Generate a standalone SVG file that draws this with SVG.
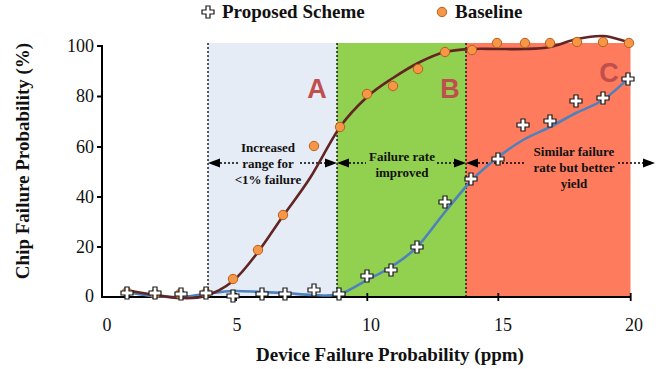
<svg xmlns="http://www.w3.org/2000/svg" width="670" height="369" viewBox="0 0 670 369">
<style>
.ser{font-family:"Liberation Serif","Times New Roman",serif;fill:#111}
.tick{font-size:18px}
.title{font-size:19px;font-weight:bold}
.note{font-size:13px;font-weight:bold;text-anchor:middle}
.reg{font-family:"Liberation Sans",Arial,sans-serif;font-size:27px;font-weight:bold;fill:#BF4F4C;text-anchor:middle}
.dash{stroke:#000;stroke-width:1.3;stroke-dasharray:2 2;fill:none}
.arr{stroke:#000;stroke-width:1.5;stroke-dasharray:2 2;fill:none}
.head{fill:#000}
.circ{fill:#F79646;stroke:#B5601C;stroke-width:1}
</style>
<defs>
<path id="plus" d="M-2,-6 h4 v4 h4 v4 h-4 v4 h-4 v-4 h-4 v-4 h4 z" fill="#fff" stroke="#1a1a1a" stroke-width="1.2"/>
<circle id="dot" r="4.7" class="circ"/>
</defs>
<rect width="670" height="369" fill="#fff"/>
<g id="regions">
<rect x="208" y="43" width="129" height="254" fill="#E6ECF6"/>
<rect x="337" y="43" width="129" height="254" fill="#92D050"/>
<rect x="466" y="43" width="164.5" height="254" fill="#FF7B5E"/>
<line class="dash" x1="208" y1="43" x2="208" y2="297"/>
<line class="dash" x1="337" y1="43" x2="337" y2="297"/>
<line class="dash" x1="466" y1="43" x2="466" y2="297"/>
</g>
<g id="region-labels">
<text class="reg" x="317" y="98">A</text>
<text class="reg" x="450" y="98">B</text>
<text class="reg" x="609" y="82">C</text>
</g>
<g id="annotations">
<line class="arr" x1="220" y1="163" x2="238" y2="163"/>
<line class="arr" x1="300" y1="163" x2="326" y2="163"/>
<path class="head" d="M208,163 L220,158.5 L220,167.5 Z"/>
<path class="head" d="M337,163 L325,158.5 L325,167.5 Z"/>
<text class="ser note" x="268" y="152">Increased</text>
<text class="ser note" x="268" y="168">range for</text>
<text class="ser note" x="268" y="184">&lt;1% failure</text>
<line class="arr" x1="349" y1="163" x2="366" y2="163"/>
<line class="arr" x1="437" y1="163" x2="455" y2="163"/>
<path class="head" d="M337,163 L349,158.5 L349,167.5 Z"/>
<path class="head" d="M466,163 L454,158.5 L454,167.5 Z"/>
<text class="ser note" x="402" y="161">Failure rate</text>
<text class="ser note" x="402" y="177">improved</text>
<line class="arr" x1="478" y1="163" x2="524" y2="163"/>
<line class="arr" x1="618" y1="163" x2="643" y2="163"/>
<path class="head" d="M466,163 L478,158.5 L478,167.5 Z"/>
<path class="head" d="M655,163 L643,158.5 L643,167.5 Z"/>
<text class="ser note" x="574" y="156">Similar failure</text>
<text class="ser note" x="574" y="172">rate but better</text>
<text class="ser note" x="574" y="188">yield</text>
</g>
<g id="axes" stroke="#000" stroke-width="2">
<line x1="102" y1="45" x2="102" y2="297"/>
<line x1="101" y1="297" x2="631" y2="297"/>
<path d="M97,46H102M97,96.5H102M97,147H102M97,197H102M97,247H102M236,293V301M367.3,293V301M498.3,293V301M630.7,293V301" stroke-width="1.8"/>
</g>
<g id="axis-labels" class="ser tick">
<text x="94" y="52" text-anchor="end">100</text>
<text x="94" y="102" text-anchor="end">80</text>
<text x="94" y="153" text-anchor="end">60</text>
<text x="94" y="203" text-anchor="end">40</text>
<text x="94" y="253" text-anchor="end">20</text>
<text x="94" y="302" text-anchor="end">0</text>
<text x="107" y="331" text-anchor="middle">0</text>
<text x="237" y="331" text-anchor="middle">5</text>
<text x="371" y="331" text-anchor="middle">10</text>
<text x="503" y="331" text-anchor="middle">15</text>
<text x="634" y="331" text-anchor="middle">20</text>
</g>
<g id="axis-titles" class="ser title">
<text x="390" y="361" text-anchor="middle">Device Failure Probability (ppm)</text>
<text transform="translate(29,161) rotate(-90)" text-anchor="middle">Chip Failure Probability (%)</text>
</g>
<g id="connectors" fill="none" stroke-width="2.6" stroke-linecap="round">
<path id="proposed-curve" stroke="#4F81BD" d="M126,292 C134.7,293.3 143,295.2 152,296 S171.2,297.3 180,297 S196.2,295 205,294 S223.7,291.3 233,291 S252.3,291.7 261,292 S276.3,292.5 285,293 S303.8,294.8 313,295 S331,296.5 340,294 S358.5,284.5 367,280 S382.7,272.5 391,267 S408,256.2 417,247 S435.8,223.2 445,212 S463.3,189 472,180 S488.5,164.7 497,158 S514.2,145.2 523,140 S541.2,131.5 550,127 S567.2,117.5 576,113 S594.3,105.7 603,100 S619.7,86 628,79"/>
<path id="baseline-curve" stroke="#632523" d="M126,290 C136,292 146,293.7 155,295 S171.7,297.8 180,298 S196.2,298.8 205,296 S224.2,288.3 233,281 S249.7,262.8 258,252 S274.3,228.3 283,216 S300.5,192.8 310,178 S330.5,140.5 340,127 S358.2,105.2 367,97 S384.2,83.8 393,78 S411.3,66.3 420,62 S436.3,54.2 445,52 S463.3,49.5 472,49 S488.2,49 497,49 S516.2,49.3 525,49 S541.3,48.7 550,47 S568.2,40.8 577,39 S594.3,35.5 603,36 S620.3,40 629,42"/>
</g>
<g id="baseline-points">
<use href="#dot" x="127" y="292"/><use href="#dot" x="155" y="294"/><use href="#dot" x="180" y="294"/><use href="#dot" x="206" y="293"/>
<use href="#dot" x="233" y="279"/><use href="#dot" x="258" y="250"/><use href="#dot" x="283" y="215"/><use href="#dot" x="314" y="146"/>
<use href="#dot" x="340" y="127"/><use href="#dot" x="367" y="94"/><use href="#dot" x="393" y="86"/><use href="#dot" x="418" y="69"/>
<use href="#dot" x="445" y="52"/><use href="#dot" x="472" y="50"/><use href="#dot" x="497" y="43"/><use href="#dot" x="525" y="43"/>
<use href="#dot" x="550" y="43"/><use href="#dot" x="577" y="42"/><use href="#dot" x="603" y="42"/><use href="#dot" x="629" y="43"/>
</g>
<g id="proposed-points">
<use href="#plus" x="127" y="293"/><use href="#plus" x="155" y="293"/><use href="#plus" x="181" y="294"/><use href="#plus" x="206" y="293"/>
<use href="#plus" x="233" y="296"/><use href="#plus" x="262" y="294"/><use href="#plus" x="285" y="294"/><use href="#plus" x="314" y="290"/>
<use href="#plus" x="339" y="294"/><use href="#plus" x="367" y="276"/><use href="#plus" x="391" y="270"/><use href="#plus" x="417" y="247"/>
<use href="#plus" x="445" y="202"/><use href="#plus" x="471" y="179"/><use href="#plus" x="498" y="159"/><use href="#plus" x="523" y="125"/>
<use href="#plus" x="550" y="121"/><use href="#plus" x="576" y="101"/><use href="#plus" x="603" y="98"/><use href="#plus" x="628" y="79"/>
</g>
<g id="legend">
<use href="#plus" x="208" y="12"/>
<text class="ser title" x="222" y="18">Proposed Scheme</text>
<use href="#dot" x="442" y="12"/>
<text class="ser title" x="455" y="18">Baseline</text>
</g>
</svg>
